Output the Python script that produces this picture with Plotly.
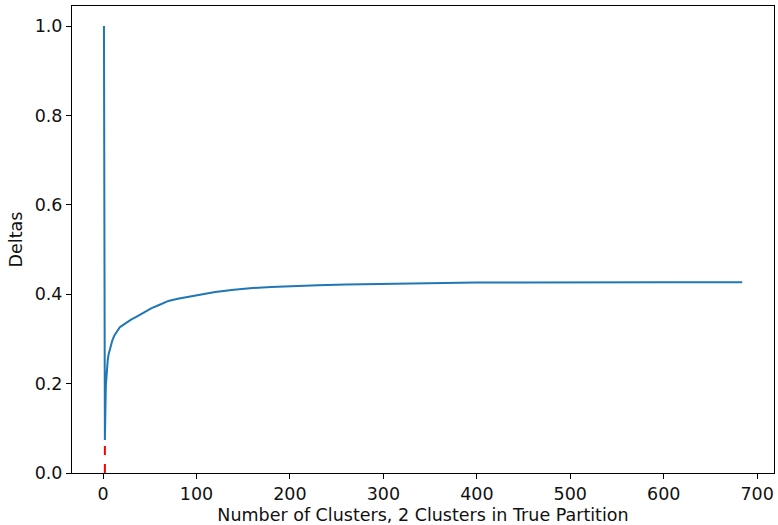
import plotly.graph_objects as go

n_clusters = [1, 2, 3, 4, 5, 6, 8, 10, 12, 15, 18, 22, 26, 30, 36, 44, 52, 60, 70,
              80, 90, 100, 120, 140, 160, 180, 200, 230, 260, 300, 350, 400, 450,
              500, 600, 684]
deltas = [1.0, 0.074, 0.195, 0.235, 0.252, 0.266, 0.284, 0.297, 0.307, 0.318, 0.326,
          0.332, 0.338, 0.343, 0.350, 0.360, 0.369, 0.376, 0.385, 0.390, 0.394,
          0.398, 0.405, 0.410, 0.414, 0.416, 0.418, 0.420, 0.422, 0.4235, 0.425,
          0.426, 0.4265, 0.427, 0.427, 0.427]
true_k = 2
x_ticks = [0, 100, 200, 300, 400, 500, 600, 700]
y_ticks = [0.0, 0.2, 0.4, 0.6, 0.8, 1.0]

true_delta = deltas[n_clusters.index(true_k)]

fig = go.Figure()
fig.add_trace(go.Scatter(x=n_clusters, y=deltas, mode="lines",
                         line=dict(color="#1f77b4", width=2), showlegend=False))
fig.add_trace(go.Scatter(x=[true_k, true_k], y=[0, true_delta], mode="lines",
                         line=dict(color="red", width=2, dash="dash"), showlegend=False))

FS = 17.5

axis_common = dict(showline=True, mirror=True, linecolor="black", linewidth=1,
                   ticks="outside", ticklen=5, tickcolor="black", tickwidth=1,
                   showgrid=False, zeroline=False, automargin=False,
                   tickfont=dict(family="DejaVu Sans", size=FS, color="#111"))

fig.update_layout(
    width=778, height=525,
    margin=dict(l=72, r=4, t=6, b=52),
    paper_bgcolor="white", plot_bgcolor="white",
    font=dict(family="DejaVu Sans", size=FS, color="#111"),
    xaxis=dict(range=[-33.2, 718], tickvals=x_ticks,
               title=dict(text="Number of Clusters, 2 Clusters in True Partition",
                          standoff=11, font=dict(size=FS)),
               **axis_common),
    yaxis=dict(range=[0, 1.045], tickvals=y_ticks, tickformat=".1f",
               title=dict(text="Deltas", standoff=7, font=dict(size=FS)),
               **axis_common),
)

fig.write_html("out.html", config={"displayModeBar": False},
               post_script="document.body.style.margin='0';document.body.style.overflow='hidden';")
